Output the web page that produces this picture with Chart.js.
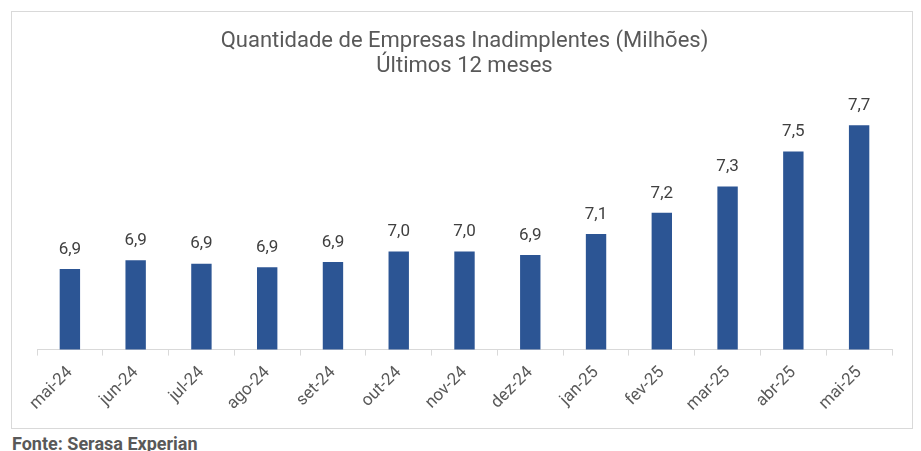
<!DOCTYPE html>
<html lang="pt-BR">
<head>
<meta charset="utf-8">
<script src="https://cdn.jsdelivr.net/npm/chart.js@4.4.1/dist/chart.umd.min.js"></script>
<style>
  html, body { margin: 0; padding: 0; background: #fff; }
  body { width: 921px; height: 451px; position: relative; overflow: hidden; font-family: Roboto, sans-serif; }
  #frame { position: absolute; left: 11px; top: 11px; width: 900px; height: 416px; border: 1px solid #d9d9d9; }
  #fonte { position: absolute; left: 12px; top: 435px; font: bold 18px/18px Roboto, sans-serif; color: #595959; }
</style>
</head>
<body>
<div id="frame"><canvas id="barChart" width="900" height="416"></canvas></div>
<div id="fonte">Fonte: Serasa Experian</div>
<script>
// Meses (últimos 12 meses)
const meses = ['mai-24', 'jun-24', 'jul-24', 'ago-24', 'set-24', 'out-24', 'nov-24',
               'dez-24', 'jan-25', 'fev-25', 'mar-25', 'abr-25', 'mai-25'];
// Empresas inadimplentes, em milhões (estimado a partir da figura)
const inadimplentes = [6.86, 6.91, 6.89, 6.87, 6.90, 6.96, 6.96, 6.94, 7.06, 7.18, 7.33, 7.53, 7.68];
const tituloLinhas = ['Quantidade de Empresas Inadimplentes (Milhões)', 'Últimos 12 meses'];

// Rótulos de valor em cima das barras (formato pt-BR)
const rotulosBarras = {
    id: 'rotulosBarras',
    afterDatasetsDraw(chart) {
        const ctx = chart.ctx;
        const meta = chart.getDatasetMeta(0);
        ctx.save();
        ctx.font = '17px Roboto, sans-serif';
        ctx.fillStyle = '#404040';
        ctx.textAlign = 'center';
        ctx.textBaseline = 'bottom';
        meta.data.forEach((bar, i) => {
            const txt = chart.data.datasets[0].data[i].toFixed(1).replace('.', ',');
            ctx.fillText(txt, bar.x, bar.y - 11);
        });
        ctx.restore();
    }
};

const ctx = document.getElementById('barChart').getContext('2d');
const barChart = new Chart(ctx, {
    type: 'bar',
    data: {
        labels: meses,
        datasets: [{
            data: inadimplentes,
            backgroundColor: '#2C5594',
            barPercentage: 0.31,
            categoryPercentage: 1
        }]
    },
    options: {
        responsive: false,
        animation: false,
        layout: { padding: { left: 25, right: 20, top: 0, bottom: 6 } },
        plugins: {
            legend: { display: false },
            tooltip: { enabled: false },
            title: {
                display: true,
                text: tituloLinhas,
                color: '#595959',
                font: { family: 'Roboto', size: 22, weight: 'normal', lineHeight: 1.14 },
                padding: { top: 17, bottom: 25 }
            }
        },
        scales: {
            x: {
                grid: { drawOnChartArea: false, drawTicks: true, tickLength: 6, color: '#d9d9d9', offset: true },
                border: { color: '#d9d9d9' },
                ticks: {
                    color: '#595959',
                    font: { family: 'Roboto', size: 17 },
                    minRotation: 45,
                    maxRotation: 45,
                    padding: 7
                }
            },
            y: {
                display: false,
                min: 6.4,
                max: 7.8
            }
        }
    },
    plugins: [rotulosBarras]
});
</script>
</body>
</html>
